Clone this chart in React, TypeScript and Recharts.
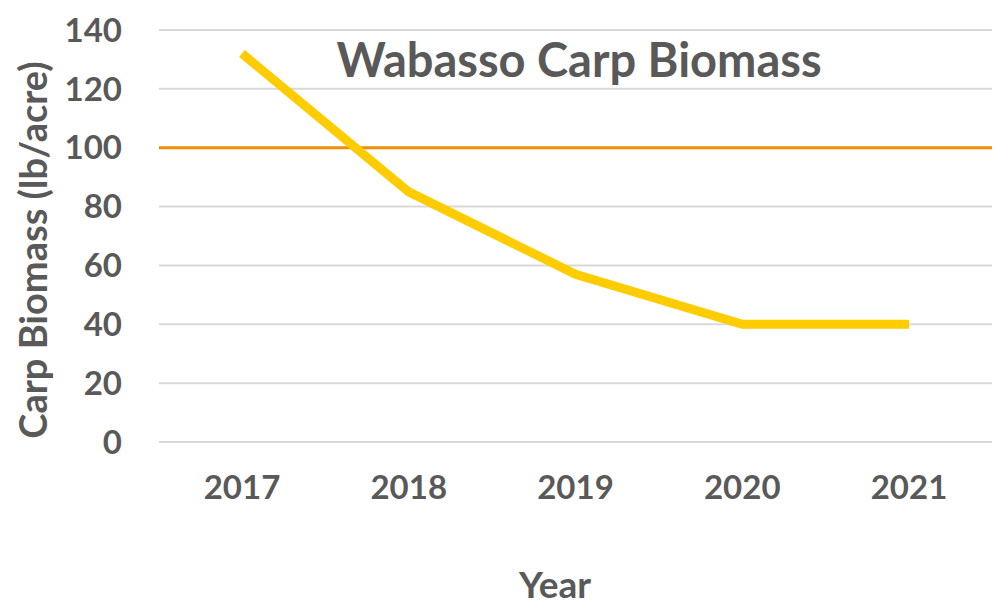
import { LineChart, Line, XAxis, YAxis, CartesianGrid, ReferenceLine, Label } from 'recharts';

const years = ['2017', '2018', '2019', '2020', '2021'];
const biomass = [132, 85, 57, 40, 40];
const yTicks = [0, 20, 40, 60, 80, 100, 120, 140];
const targetBiomass = 100;

const data = years.map((year, i) => ({ year, biomass: biomass[i] }));

const textColor = '#595959';
const font = 'Lato, "Open Sans", sans-serif';

export default function App() {
  return (
    <div style={{ position: 'absolute', left: 0, top: 0, width: 995, height: 609, background: '#fff', fontFamily: font }}>
      <div
        style={{
          position: 'absolute',
          left: 579,
          top: 33,
          transform: 'translateX(-50%)',
          whiteSpace: 'nowrap',
          fontSize: 47,
          fontWeight: 700,
          color: textColor,
          lineHeight: '52px',
        }}
      >
        Wabasso Carp Biomass
      </div>
      <LineChart width={995} height={609} data={data} margin={{ top: 30, right: 3, bottom: 0, left: 0 }}>
        <CartesianGrid vertical={false} stroke="#d9d9d9" strokeWidth={2} />
        <XAxis
          dataKey="year"
          axisLine={false}
          tickLine={false}
          tickSize={0}
          tickMargin={34}
          height={167}
          padding={{ left: 83, right: 83 }}
          tick={{ fontSize: 33, fill: textColor, fontWeight: 700, fontFamily: font }}
        >
          <Label
            content={({ viewBox }: any) => (
              <text
                x={555}
                y={viewBox.y + viewBox.height - 11}
                textAnchor="middle"
                fontSize={37}
                fontWeight={700}
                fill={textColor}
                fontFamily={font}
              >
                Year
              </text>
            )}
          />
        </XAxis>
        <YAxis
          domain={[0, 140]}
          ticks={yTicks}
          axisLine={false}
          tickLine={false}
          tickSize={0}
          tickMargin={37}
          width={159}
          tick={{ fontSize: 33, fill: textColor, fontWeight: 700, fontFamily: font }}
        >
          <Label
            content={() => (
              <text
                x={32}
                y={250}
                transform="rotate(-90 32 250)"
                textAnchor="middle"
                dominantBaseline="central"
                fontSize={38}
                fontWeight={700}
                fill={textColor}
                fontFamily={font}
              >
                Carp Biomass (lb/acre)
              </text>
            )}
          />
        </YAxis>
        <ReferenceLine y={targetBiomass} stroke="#f18f00" strokeWidth={3} />
        <Line
          type="linear"
          dataKey="biomass"
          stroke="#ffcc00"
          strokeWidth={9}
          dot={false}
          activeDot={false}
          isAnimationActive={false}
        />
      </LineChart>
    </div>
  );
}
